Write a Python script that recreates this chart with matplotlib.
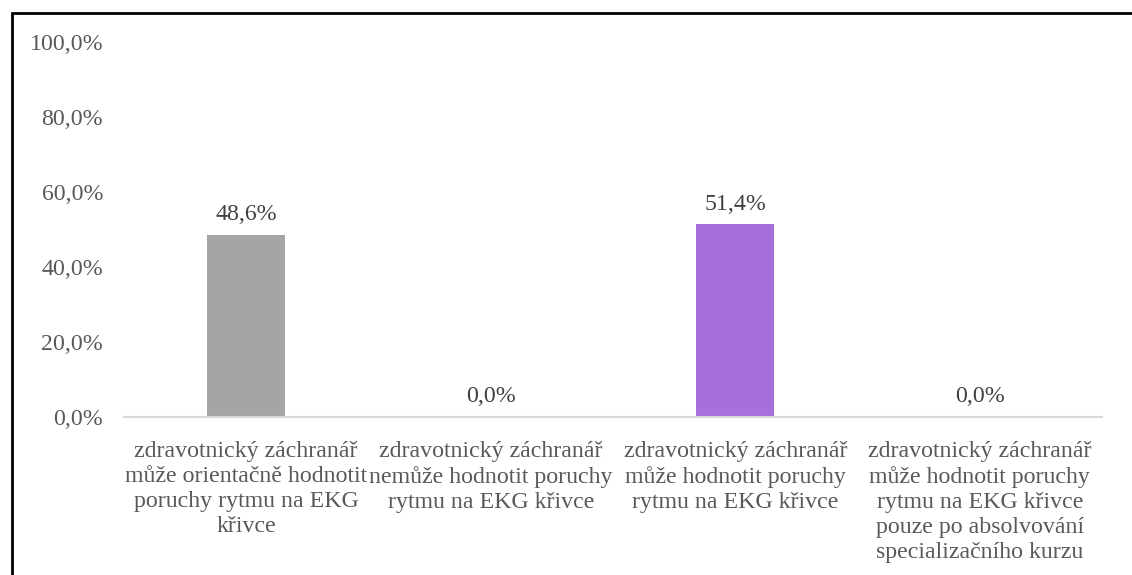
import matplotlib.pyplot as plt
from matplotlib.patches import Rectangle

plt.rcParams['font.family'] = ['Liberation Serif', 'DejaVu Serif']

categories = [
    'zdravotnický záchranář\nmůže orientačně hodnotit\nporuchy rytmu na EKG\nkřivce',
    'zdravotnický záchranář\nnemůže hodnotit poruchy\nrytmu na EKG křivce',
    'zdravotnický záchranář\nmůže hodnotit poruchy\nrytmu na EKG křivce',
    'zdravotnický záchranář\nmůže hodnotit poruchy\nrytmu na EKG křivce\npouze po absolvování\nspecializačního kurzu',
]
values = [48.6, 0.0, 51.4, 0.0]
colors = ['#A5A5A5', '#5B9BD5', '#A66FDB', '#70AD47']

FS = 17.2
W, H = 1132, 575
fig = plt.figure(figsize=(W / 100, H / 100), dpi=100)
ax = fig.add_axes([124 / W, 1 - 417 / H, (1102 - 124) / W, (417 - 42) / H])

x = range(len(values))
ax.bar(x, values, width=0.32, color=colors, zorder=2)
for xi, v in zip(x, values):
    ax.text(xi, v + 2.6, f'{v:.1f}%'.replace('.', ','), ha='center', va='bottom',
            fontsize=FS, color='#404040')

ax.set_xlim(-0.5, len(values) - 0.5)
ax.set_ylim(0, 100)
ax.set_yticks(range(0, 101, 20))
ax.set_yticklabels([f'{t:.1f}%'.replace('.', ',') for t in range(0, 101, 20)],
                   fontsize=FS, color='#595959')
ax.set_xticks(list(x))
ax.set_xticklabels(categories, fontsize=FS, color='#595959', linespacing=1.25)
ax.tick_params(axis='both', length=0)
ax.tick_params(axis='y', pad=15)
ax.tick_params(axis='x', pad=17)

for s in ['top', 'right', 'left']:
    ax.spines[s].set_visible(False)
ax.spines['bottom'].set_color('#D9D9D9')
ax.spines['bottom'].set_linewidth(1.5)

# outer frame of the chart area
fig.patches.append(Rectangle((12 / W, -0.1), 1.2, 1 - 13 / H + 0.1,
                             transform=fig.transFigure, fill=False,
                             edgecolor='black', linewidth=2))

fig.savefig('out.png', dpi=100)
